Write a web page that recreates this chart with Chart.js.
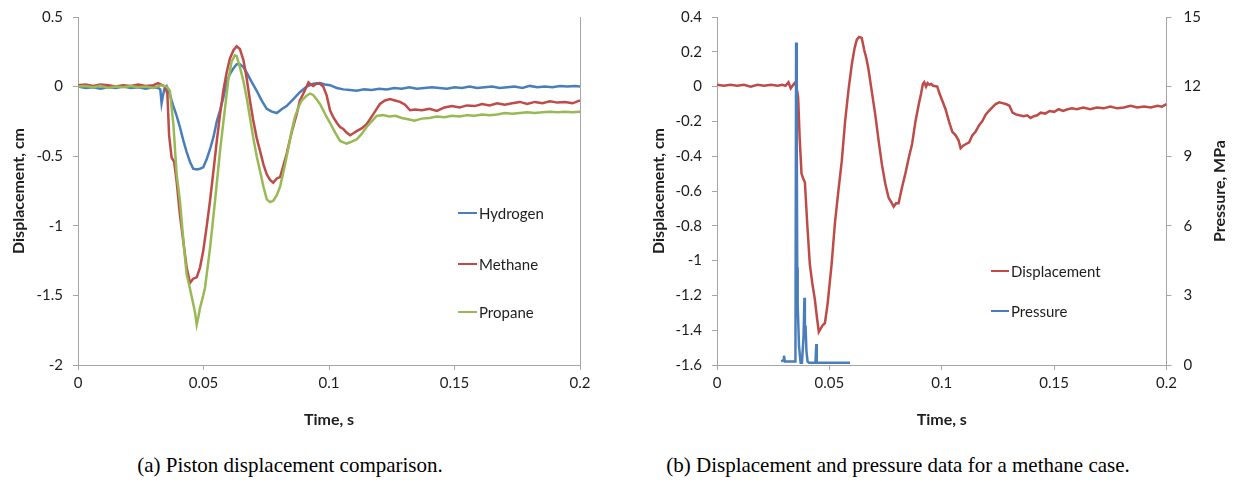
<!DOCTYPE html>
<html>
<head>
<meta charset="utf-8">
<script src="https://cdn.jsdelivr.net/npm/chart.js@4.4.1/dist/chart.umd.min.js"></script>
<style>
  body { margin: 0; background: #fff; width: 1237px; height: 482px; position: relative; overflow: hidden; }
  canvas { position: absolute; top: 0; }
  #chartA { left: 0; }
  #chartB { left: 630px; }
  .cap { position: absolute; top: 453px; font-family: "Liberation Serif", serif; font-size: 21px; color: #000; white-space: nowrap; transform: translateX(-50%); }
</style>
</head>
<body>
<canvas id="chartA" width="615" height="440"></canvas>
<canvas id="chartB" width="607" height="440"></canvas>
<div class="cap" style="left:290px">(a) Piston displacement comparison.</div>
<div class="cap" style="left:898px">(b) Displacement and pressure data for a methane case.</div>

<script>
/*=========================================================
DATA  [time s, value]
=========================================================*/

const hydrogen = [
  [0, 0], [0.003, -0.01], [0.006, -0.005], [0.009, -0.015], [0.012, -0.005], [0.015, -0.01],
  [0.018, 0], [0.021, -0.01], [0.024, -0.005], [0.027, -0.015], [0.03, -0.005], [0.032, -0.01],
  [0.0328, -0.02], [0.0333, -0.12], [0.0338, -0.07], [0.0345, -0.01], [0.0353, 0.005], [0.0365, -0.05],
  [0.038, -0.14], [0.0393, -0.21], [0.0406, -0.29], [0.042, -0.39], [0.0433, -0.47], [0.0446, -0.54],
  [0.0459, -0.59], [0.0473, -0.595], [0.0486, -0.59], [0.0499, -0.58], [0.0513, -0.52], [0.0526, -0.45],
  [0.054, -0.36], [0.0553, -0.25], [0.0566, -0.17], [0.0579, -0.08], [0.0592, 0.03], [0.0605, 0.09],
  [0.0619, 0.13], [0.0632, 0.16], [0.0645, 0.16], [0.0659, 0.14], [0.0672, 0.1], [0.069, 0.04],
  [0.0712, -0.03], [0.0732, -0.1], [0.0752, -0.16], [0.0772, -0.18], [0.0792, -0.19], [0.081, -0.165],
  [0.0831, -0.14], [0.0858, -0.09], [0.0884, -0.04], [0.0911, 0], [0.0937, 0.02], [0.0964, 0.025],
  [0.0984, 0.015], [0.1004, 0.01], [0.1031, -0.01], [0.1057, -0.02], [0.1084, -0.025], [0.111, -0.03],
  [0.114, -0.02], [0.117, -0.025], [0.12, -0.015], [0.123, -0.02], [0.126, -0.01], [0.129, -0.015],
  [0.132, -0.005], [0.135, -0.015], [0.138, -0.01], [0.141, -0.005], [0.144, -0.01], [0.147, -0.015],
  [0.15, -0.005], [0.153, -0.01], [0.156, 0], [0.159, -0.01], [0.162, -0.005], [0.165, 0],
  [0.168, -0.01], [0.171, -0.005], [0.174, 0], [0.177, -0.01], [0.18, 0.005], [0.183, -0.005],
  [0.186, 0], [0.189, -0.005], [0.192, 0.005], [0.195, 0], [0.198, 0.005], [0.2, 0]
];

const methane = [
  [0, 0.01], [0.003, 0.015], [0.006, 0.005], [0.009, 0.015], [0.012, 0.01], [0.015, 0],
  [0.018, 0.01], [0.021, 0.005], [0.024, 0.015], [0.027, 0.005], [0.03, 0.01], [0.0319, 0.025],
  [0.0335, 0.01], [0.0347, 0], [0.0356, -0.05], [0.0363, -0.35], [0.0373, -0.51], [0.0383, -0.54],
  [0.0393, -0.68], [0.0406, -0.92], [0.042, -1.12], [0.0433, -1.3], [0.0446, -1.41], [0.0459, -1.38],
  [0.0473, -1.37], [0.0486, -1.3], [0.0499, -1.18], [0.0513, -1.0], [0.0526, -0.82], [0.054, -0.6],
  [0.0553, -0.39], [0.0566, -0.2], [0.0579, -0.03], [0.0592, 0.1], [0.0605, 0.2], [0.0619, 0.26],
  [0.0632, 0.29], [0.0645, 0.27], [0.0659, 0.19], [0.0672, 0.06], [0.0685, -0.1], [0.0698, -0.24],
  [0.0712, -0.37], [0.0725, -0.46], [0.0739, -0.56], [0.0752, -0.63], [0.0765, -0.67], [0.0778, -0.69],
  [0.0792, -0.66], [0.0805, -0.65], [0.0818, -0.57], [0.0831, -0.485], [0.0851, -0.33], [0.0871, -0.2],
  [0.0884, -0.1], [0.0898, -0.05], [0.0911, 0], [0.0918, 0.03], [0.0924, 0.02], [0.0937, 0.005],
  [0.095, 0.02], [0.0964, 0.02], [0.0977, 0], [0.0991, -0.065], [0.1004, -0.17], [0.1017, -0.22],
  [0.1031, -0.26], [0.1044, -0.29], [0.1057, -0.305], [0.107, -0.33], [0.1084, -0.35], [0.1097, -0.335],
  [0.111, -0.32], [0.113, -0.3], [0.115, -0.27], [0.1176, -0.2], [0.119, -0.16], [0.1203, -0.125],
  [0.1223, -0.1], [0.1243, -0.09], [0.1263, -0.1], [0.1283, -0.11], [0.1303, -0.13], [0.1323, -0.17],
  [0.1343, -0.165], [0.137, -0.17], [0.14, -0.16], [0.143, -0.175], [0.146, -0.15], [0.149, -0.14],
  [0.152, -0.15], [0.155, -0.135], [0.158, -0.14], [0.161, -0.125], [0.164, -0.135], [0.167, -0.12],
  [0.17, -0.13], [0.173, -0.12], [0.176, -0.11], [0.179, -0.125], [0.182, -0.11], [0.185, -0.12],
  [0.188, -0.105], [0.191, -0.115], [0.194, -0.11], [0.197, -0.12], [0.2, -0.1]
];

const propane = [
  [0, 0], [0.003, 0.005], [0.006, -0.005], [0.009, 0.005], [0.012, -0.01], [0.015, 0],
  [0.018, -0.005], [0.021, 0.005], [0.024, -0.005], [0.027, 0], [0.03, -0.01], [0.033, 0.01],
  [0.0353, 0], [0.0366, -0.03], [0.038, -0.27], [0.0393, -0.63], [0.0406, -0.82], [0.042, -1.11],
  [0.0433, -1.35], [0.0446, -1.45], [0.0459, -1.56], [0.0466, -1.62], [0.0473, -1.71], [0.048, -1.65],
  [0.0486, -1.59], [0.0499, -1.5], [0.0506, -1.445], [0.0526, -1.16], [0.0546, -0.82], [0.0566, -0.46],
  [0.0586, -0.15], [0.0599, 0.05], [0.0612, 0.18], [0.0625, 0.225], [0.0632, 0.22], [0.0645, 0.14],
  [0.0659, 0.04], [0.0672, -0.08], [0.0685, -0.22], [0.0698, -0.365], [0.0712, -0.5], [0.0725, -0.605],
  [0.0739, -0.72], [0.0752, -0.81], [0.0765, -0.83], [0.0778, -0.82], [0.0792, -0.78], [0.0805, -0.72],
  [0.0825, -0.56], [0.0838, -0.44], [0.0851, -0.32], [0.0864, -0.22], [0.0878, -0.15], [0.0891, -0.1],
  [0.0911, -0.065], [0.0924, -0.05], [0.0937, -0.06], [0.095, -0.09], [0.0964, -0.125], [0.0977, -0.17],
  [0.0991, -0.22], [0.1004, -0.26], [0.1017, -0.305], [0.1031, -0.35], [0.1044, -0.39], [0.1057, -0.4],
  [0.107, -0.41], [0.1084, -0.4], [0.1097, -0.39], [0.111, -0.38], [0.113, -0.34], [0.115, -0.29],
  [0.117, -0.25], [0.119, -0.21], [0.1215, -0.205], [0.124, -0.215], [0.1265, -0.21], [0.129, -0.225],
  [0.1315, -0.235], [0.134, -0.245], [0.137, -0.23], [0.14, -0.225], [0.143, -0.215], [0.146, -0.22],
  [0.149, -0.21], [0.152, -0.215], [0.155, -0.205], [0.158, -0.21], [0.161, -0.2], [0.164, -0.205],
  [0.167, -0.2], [0.17, -0.19], [0.173, -0.195], [0.176, -0.19], [0.179, -0.185], [0.182, -0.19],
  [0.185, -0.185], [0.188, -0.18], [0.191, -0.185], [0.194, -0.18], [0.197, -0.185], [0.2, -0.18]
];

// methane case, figure (b)
const displacement = [
  [0, 0.01], [0.003, 0.005], [0.006, 0.01], [0.009, 0.005], [0.012, 0.01], [0.015, 0],
  [0.018, 0.01], [0.021, 0.005], [0.024, 0.01], [0.027, 0.005], [0.029, 0.01], [0.0305, 0.005],
  [0.0318, 0.025], [0.0328, -0.01], [0.0336, 0.005], [0.0345, 0.02], [0.0353, 0.005], [0.0361, -0.06],
  [0.0368, -0.3], [0.0376, -0.5], [0.0384, -0.53], [0.0391, -0.55], [0.0402, -0.8], [0.0413, -1.02],
  [0.0424, -1.13], [0.0435, -1.22], [0.0445, -1.33], [0.0453, -1.41], [0.0462, -1.39], [0.0471, -1.37],
  [0.048, -1.36], [0.0492, -1.25], [0.051, -1.02], [0.0525, -0.78], [0.054, -0.6], [0.0555, -0.43],
  [0.057, -0.2], [0.0585, -0.02], [0.06, 0.13], [0.0612, 0.22], [0.0622, 0.27], [0.0632, 0.285],
  [0.0644, 0.28], [0.0655, 0.21], [0.0665, 0.16], [0.0674, 0.1], [0.0689, -0.03], [0.0704, -0.16],
  [0.0719, -0.31], [0.0734, -0.45], [0.0749, -0.56], [0.0764, -0.64], [0.0778, -0.67], [0.0786, -0.69],
  [0.0797, -0.67], [0.0808, -0.67], [0.0823, -0.58], [0.0838, -0.5], [0.0853, -0.41], [0.0868, -0.33],
  [0.0883, -0.2], [0.0898, -0.1], [0.0908, -0.04], [0.0916, 0.015], [0.0922, 0.025], [0.093, 0],
  [0.0937, 0.02], [0.0945, 0.01], [0.0953, 0.015], [0.0962, 0.005], [0.098, 0], [0.099, -0.04],
  [0.1002, -0.08], [0.1017, -0.13], [0.1032, -0.2], [0.1047, -0.26], [0.1062, -0.28], [0.1075, -0.31],
  [0.1084, -0.355], [0.1095, -0.34], [0.1108, -0.33], [0.1122, -0.32], [0.1136, -0.28], [0.115, -0.26],
  [0.1167, -0.22], [0.118, -0.2], [0.1196, -0.16], [0.121, -0.14], [0.1225, -0.12], [0.124, -0.1],
  [0.1256, -0.09], [0.127, -0.095], [0.1285, -0.1], [0.1301, -0.11], [0.1315, -0.15], [0.133, -0.16],
  [0.1345, -0.165], [0.1365, -0.17], [0.138, -0.165], [0.1395, -0.18], [0.141, -0.17], [0.1425, -0.165],
  [0.144, -0.15], [0.146, -0.155], [0.148, -0.14], [0.15, -0.145], [0.152, -0.13], [0.154, -0.14],
  [0.156, -0.13], [0.158, -0.125], [0.16, -0.13], [0.163, -0.12], [0.166, -0.13], [0.169, -0.12],
  [0.172, -0.125], [0.175, -0.115], [0.178, -0.125], [0.181, -0.12], [0.184, -0.11], [0.187, -0.12],
  [0.19, -0.115], [0.193, -0.12], [0.196, -0.11], [0.198, -0.115], [0.2, -0.1]
];

// MPa
const pressure = [
  [0.0286, 0.15], [0.0294, 0.2], [0.0298, 0.4], [0.0302, 0.15], [0.0349, 0.15], [0.0352, 13.9],
  [0.0355, 9.4], [0.0357, 4.2], [0.0359, 2.6], [0.0361, 2.0], [0.0365, 0.8], [0.0372, 0.1],
  [0.0378, 0.1], [0.0385, 1.2], [0.0389, 2.9], [0.0391, 1.4], [0.0394, 1.7], [0.0398, 0.6],
  [0.0403, 0.15], [0.041, 0.1], [0.0438, 0.1], [0.0442, 0.9], [0.0444, 0.15], [0.0447, 0.1],
  [0.0592, 0.1]
];

const timeTicks = { min: 0, max: 0.2, step: 0.05 };
const dispTicksA = { min: -2, max: 0.5, step: 0.5 };
const dispTicksB = { min: -1.6, max: 0.4, step: 0.2 };
const pressTicks = { min: 0, max: 15, step: 3 };

/*=========================================================
STYLE
=========================================================*/

const BLUE = "#4a7ebb";
const RED = "#be4b48";
const GREEN = "#98b954";
const AXIS = "#a6a6a6";
const TXT = "#1e1e1e";
const FONT = "Lato, 'Open Sans', sans-serif";

Chart.defaults.font.family = FONT;
Chart.defaults.color = TXT;

function toPoints(rows) {
  return rows.map((r) => ({ x: r[0], y: r[1] }));
}

function fmt(v) {
  return String(Number(v.toFixed(3)));
}

function line(label, rows, color, order, yAxisID) {
  return {
    label: label,
    data: toPoints(rows),
    borderColor: color,
    backgroundColor: color,
    borderWidth: 2.5,
    pointRadius: 0,
    tension: 0,
    order: order,
    yAxisID: yAxisID || "y",
  };
}

// fixed box size, tick padding not added to the top/bottom overhang
function fixWidth(w) {
  return (s) => {
    s.width = w;
    s.paddingTop = 9;
    s.paddingBottom = 9;
  };
}

function fixHeight(h) {
  return (s) => {
    s.height = h;
  };
}

function axis(t, opts, pad) {
  return Object.assign(
    {
      type: "linear",
      min: t.min,
      max: t.max,
      ticks: {
        stepSize: t.step,
        font: { size: 15 },
        color: TXT,
        callback: fmt,
        padding: pad,
      },
      grid: {
        drawOnChartArea: false,
        drawTicks: true,
        tickLength: 5,
        color: AXIS,
      },
      border: { color: AXIS, width: 1 },
    },
    opts,
  );
}

function title(text, padding) {
  return { display: true, text: text, font: { size: 16, weight: "bold" }, color: TXT, padding: padding };
}

/*=========================================================
EXTRAS : inside legend, right border, right title
=========================================================*/

const extras = {
  id: "extras",
  afterDraw(chart, args, o) {
    const ctx = chart.ctx;
    const area = chart.chartArea;
    ctx.save();

    if (o.rightBorder) {
      ctx.strokeStyle = AXIS;
      ctx.lineWidth = 1;
      ctx.beginPath();
      ctx.moveTo(Math.round(area.right) + 0.5, area.top);
      ctx.lineTo(Math.round(area.right) + 0.5, area.bottom);
      ctx.stroke();
    }

    if (o.rightTitle) {
      ctx.translate(o.rightTitle.x, (area.top + area.bottom) / 2);
      ctx.rotate(-Math.PI / 2);
      ctx.font = "bold 16px " + FONT;
      ctx.fillStyle = TXT;
      ctx.textAlign = "center";
      ctx.textBaseline = "middle";
      ctx.fillText(o.rightTitle.text, 0, 0);
      ctx.setTransform(1, 0, 0, 1, 0, 0);
    }

    ctx.font = "15px " + FONT;
    ctx.textBaseline = "middle";
    ctx.textAlign = "left";
    o.legend.rows.forEach((row) => {
      const ds = chart.data.datasets[row.index];
      ctx.strokeStyle = ds.borderColor;
      ctx.lineWidth = 2;
      ctx.beginPath();
      ctx.moveTo(o.legend.x, row.y);
      ctx.lineTo(o.legend.x + o.legend.len, row.y);
      ctx.stroke();
      ctx.fillStyle = TXT;
      ctx.fillText(ds.label, o.legend.x + o.legend.len + 2, row.y + 1);
    });

    ctx.restore();
  },
};

/*=========================================================
CHART A
=========================================================*/

new Chart(document.getElementById("chartA"), {
  type: "line",
  data: {
    datasets: [
      line("Hydrogen", hydrogen, BLUE, 3),
      line("Methane", methane, RED, 2),
      line("Propane", propane, GREEN, 1),
    ],
  },
  plugins: [extras],
  options: {
    responsive: false,
    animation: false,
    devicePixelRatio: 1,
    layout: { padding: { top: 17, right: 35, left: 0, bottom: 0 } },
    plugins: {
      legend: { display: false },
      tooltip: { enabled: false },
      extras: {
        rightBorder: true,
        legend: {
          x: 458,
          len: 19,
          rows: [
            { index: 0, y: 213 },
            { index: 1, y: 264 },
            { index: 2, y: 312 },
          ],
        },
      },
    },
    scales: {
      x: axis(timeTicks, {
        title: title("Time, s", { top: 0, bottom: 11 }),
        afterFit: fixHeight(75),
      }, 4),
      y: axis(dispTicksA, {
        title: title("Displacement, cm", { top: 9, bottom: 0 }),
        afterFit: fixWidth(78),
      }, 10),
    },
  },
});

/*=========================================================
CHART B
=========================================================*/

new Chart(document.getElementById("chartB"), {
  type: "line",
  data: {
    datasets: [
      line("Displacement", displacement, RED, 2, "y"),
      line("Pressure", pressure, BLUE, 1, "y2"),
    ],
  },
  plugins: [extras],
  options: {
    responsive: false,
    animation: false,
    devicePixelRatio: 1,
    layout: { padding: { top: 17, right: 0, left: 0, bottom: 0 } },
    plugins: {
      legend: { display: false },
      tooltip: { enabled: false },
      extras: {
        rightTitle: { text: "Pressure, MPa", x: 590 },
        legend: {
          x: 361,
          len: 18,
          rows: [
            { index: 0, y: 271 },
            { index: 1, y: 311 },
          ],
        },
      },
    },
    scales: {
      x: axis(timeTicks, {
        title: title("Time, s", { top: 0, bottom: 11 }),
        afterFit: fixHeight(75),
      }, 4),
      y: axis(dispTicksB, {
        position: "left",
        title: title("Displacement, cm", { top: 19, bottom: 0 }),
        afterFit: fixWidth(87),
      }, 10),
      y2: axis(pressTicks, {
        position: "right",
        afterFit: fixWidth(70.5),
      }, 12),
    },
  },
});
</script>
</body>
</html>
